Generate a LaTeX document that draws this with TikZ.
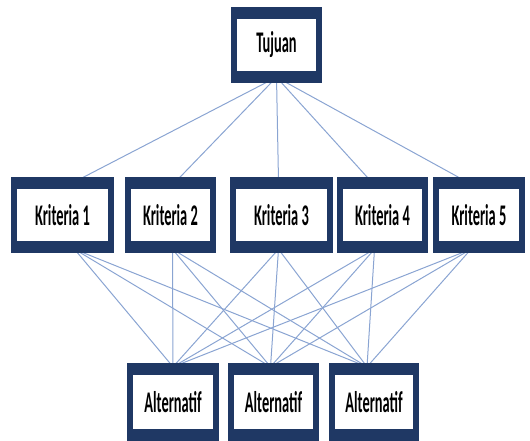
\documentclass[tikz,border=0pt]{standalone}
\usepackage{fontspec}
\newfontfamily\boxfont{Carlito}
\usetikzlibrary{backgrounds}
\definecolor{boxnavy}{HTML}{1F3864}
\definecolor{linkblue}{HTML}{8AA4D2}
\newcommand\boxlabel[1]{\scalebox{0.48}[1]{\fontsize{30}{32}\selectfont\boxfont\bfseries #1}}
\tikzset{
	ahpbox/.style={fill=boxnavy, inner sep=0pt, minimum height=76pt,
		path picture={\fill[white] ([xshift=6pt,yshift=12pt]path picture bounding box.south west) rectangle ([xshift=-6pt,yshift=-12pt]path picture bounding box.north east);}},
	link/.style={linkblue, line width=1pt}
}
\begin{document}
\begin{tikzpicture}[x=1pt, y=-1pt]
			%%%%% START %%%%%
			\useasboundingbox (0, 0) rectangle (530, 441);
			
			\node[ahpbox, minimum width=91pt] (tujuan) at (276.5, 45) {\boxlabel{Tujuan}};
			
			\node[ahpbox, minimum width=103pt] (krit1) at (62.5, 215) {\boxlabel{Kriteria 1}};
			\node[ahpbox, minimum width=91pt] (krit2) at (170.5, 215) {\boxlabel{Kriteria 2}};
			\node[ahpbox, minimum width=103pt] (krit3) at (281.5, 215) {\boxlabel{Kriteria 3}};
			\node[ahpbox, minimum width=91pt] (krit4) at (382.5, 215) {\boxlabel{Kriteria 4}};
			\node[ahpbox, minimum width=92pt] (krit5) at (479, 215) {\boxlabel{Kriteria 5}};
			
			\node[ahpbox, minimum width=92pt, minimum height=78pt] (alt1) at (173, 402) {\boxlabel{Alternatif}};
			\node[ahpbox, minimum width=91pt, minimum height=78pt] (alt2) at (273.5, 402) {\boxlabel{Alternatif}};
			\node[ahpbox, minimum width=90pt, minimum height=78pt] (alt3) at (374, 402) {\boxlabel{Alternatif}};
			
			\begin{scope}[on background layer]
				\foreach \k/\dx in {krit1/14, krit2/6, krit3/-3, krit4/-12, krit5/-14}
					\draw[link] ([yshift=6pt]tujuan.south) -- ([xshift=\dx pt, yshift=-4pt]\k.north);
				\foreach \k/\dx in {krit1/12, krit2/2, krit3/-3, krit4/-8, krit5/-8}
					\foreach \a/\ex in {alt1/0, alt2/-3, alt3/-7}
						\draw[link] ([xshift=\dx pt, yshift=4pt]\k.south) -- ([xshift=\ex pt, yshift=-4pt]\a.north);
			\end{scope}
			%%%%% END %%%%%
\end{tikzpicture}
\end{document}
